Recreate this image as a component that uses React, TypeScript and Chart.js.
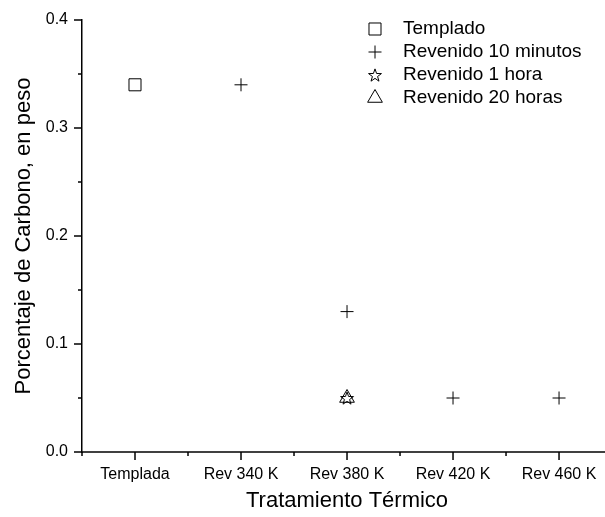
import React, { useEffect, useRef } from 'react';
import { Chart, registerables } from 'chart.js';
import { drawPoint } from 'chart.js/helpers';

Chart.register(...registerables);

// Heat-treatment categories along the x axis
const categories = ['Templada', 'Rev 340 K', 'Rev 380 K', 'Rev 420 K', 'Rev 460 K'];

// Carbon content (wt %) per series
const templadoCats = ['Templada'];
const templadoValues = [0.34];

const rev10MinCats = ['Rev 340 K', 'Rev 380 K', 'Rev 420 K', 'Rev 460 K'];
const rev10MinValues = [0.34, 0.13, 0.05, 0.05];

const rev1HoraCats = ['Rev 380 K'];
const rev1HoraValues = [0.05];

const rev20HorasCats = ['Rev 380 K'];
const rev20HorasValues = [0.05];

const yTickValues = [0, 0.1, 0.2, 0.3, 0.4];

const X_TITLE = 'Tratamiento Térmico';
const Y_TITLE = 'Porcentaje de Carbono, en peso';

const FONT = '"Liberation Sans", Arial, Helvetica, sans-serif';

function toPoints(cats: string[], values: number[]) {
  return cats.map((c, i) => ({ x: categories.indexOf(c), y: values[i] }));
}

// Outline five-pointed star used as a custom point style
function makeStar(outer: number, inner: number): HTMLCanvasElement {
  const size = 16;
  const c = document.createElement('canvas');
  c.width = size;
  c.height = size;
  const ctx = c.getContext('2d')!;
  const cx = size / 2;
  const cy = size / 2 + outer * 0.1;
  ctx.beginPath();
  for (let k = 0; k < 10; k++) {
    const r = k % 2 === 0 ? outer : inner;
    const a = -Math.PI / 2 + (k * Math.PI) / 5;
    const px = cx + r * Math.cos(a);
    const py = cy + r * Math.sin(a);
    if (k === 0) ctx.moveTo(px, py);
    else ctx.lineTo(px, py);
  }
  ctx.closePath();
  ctx.strokeStyle = '#000';
  ctx.lineWidth = 1;
  ctx.stroke();
  return c;
}

// Bottom axis line running to the canvas edge, outward major/minor ticks,
// and the x-axis title centred on the category range
const axisDecorPlugin = {
  id: 'axisDecor',
  afterDraw(chart: any, _args: any, opts: any) {
    const { ctx, chartArea: a, scales } = chart;
    const xs = scales.x;
    const ys = scales.y;
    ctx.save();
    ctx.strokeStyle = '#000';
    ctx.lineWidth = 1.5;
    const seg = (x1: number, y1: number, x2: number, y2: number) => {
      ctx.beginPath();
      ctx.moveTo(x1, y1);
      ctx.lineTo(x2, y2);
      ctx.stroke();
    };
    // x axis line
    seg(a.left - 0.75, a.bottom, chart.width, a.bottom);

    const yt = ys.ticks;
    yt.forEach((t: any, i: number) => {
      const py = ys.getPixelForValue(t.value);
      seg(a.left - 8, py, a.left, py);
      if (i < yt.length - 1) {
        const pm = ys.getPixelForValue((t.value + yt[i + 1].value) / 2);
        seg(a.left - 4, pm, a.left, pm);
      }
    });
    const xt = xs.ticks;
    const minors: number[] = [];
    xt.forEach((t: any, i: number) => {
      const px = xs.getPixelForValue(t.value);
      seg(px, a.bottom, px, a.bottom + 8);
      minors.push(t.value - 0.5);
      if (i === xt.length - 1) minors.push(t.value + 0.5);
    });
    minors.forEach((v) => {
      const px = xs.getPixelForValue(v);
      if (px >= a.left - 1 && px <= chart.width) seg(px, a.bottom, px, a.bottom + 4);
    });

    // x title
    const mid = xs.getPixelForValue((categories.length - 1) / 2);
    ctx.fillStyle = '#000';
    ctx.font = `${opts.titleSize}px ${FONT}`;
    ctx.textAlign = 'center';
    ctx.textBaseline = 'middle';
    ctx.fillText(X_TITLE, mid, a.bottom + opts.titleOffset);
    ctx.restore();
  },
};

// Boxless legend in the upper right of the plot
const markerLegendPlugin = {
  id: 'markerLegend',
  afterDraw(chart: any, _args: any, opts: any) {
    const ctx = chart.ctx;
    ctx.save();
    ctx.font = `${opts.fontSize}px ${FONT}`;
    ctx.textBaseline = 'middle';
    ctx.textAlign = 'left';
    chart.data.datasets.forEach((ds: any, i: number) => {
      const y = opts.top + i * opts.rowHeight;
      ctx.strokeStyle = '#000';
      ctx.fillStyle = 'rgba(0,0,0,0)';
      ctx.lineWidth = 1;
      drawPoint(
        ctx,
        { pointStyle: ds.pointStyle, radius: ds.pointRadius, borderWidth: 1, rotation: 0 } as any,
        opts.markerX,
        y
      );
      ctx.fillStyle = '#000';
      ctx.fillText(ds.label, opts.textX, y);
    });
    ctx.restore();
  },
};

export default function App() {
  const canvasRef = useRef<HTMLCanvasElement | null>(null);

  useEffect(() => {
    if (!canvasRef.current) return;
    const star = makeStar(6.8, 2.7);
    const common = {
      showLine: false,
      borderColor: '#000',
      backgroundColor: 'rgba(0,0,0,0)',
      borderWidth: 1,
    };
    const chart = new Chart(canvasRef.current, {
      type: 'scatter',
      data: {
        datasets: [
          { ...common, label: 'Templado', data: toPoints(templadoCats, templadoValues), pointStyle: 'rect', pointRadius: 8.5 },
          { ...common, label: 'Revenido 10 minutos', data: toPoints(rev10MinCats, rev10MinValues), pointStyle: 'cross', pointRadius: 6.5 },
          { ...common, label: 'Revenido 1 hora', data: toPoints(rev1HoraCats, rev1HoraValues), pointStyle: star as any, pointRadius: 7 },
          { ...common, label: 'Revenido 20 horas', data: toPoints(rev20HorasCats, rev20HorasValues), pointStyle: 'triangle', pointRadius: 8.5 },
        ] as any,
      },
      options: {
        animation: false,
        responsive: false,
        devicePixelRatio: 1,
        layout: { padding: { top: 20, right: 0, bottom: 0, left: 0 } },
        plugins: {
          legend: { display: false },
          tooltip: { enabled: false },
          markerLegend: { markerX: 375, textX: 403, top: 29, rowHeight: 23, fontSize: 19 },
          axisDecor: { titleSize: 22, titleOffset: 49 },
        } as any,
        scales: {
          x: {
            type: 'linear',
            min: -0.5,
            max: 4.344,
            grid: { display: false, drawTicks: false },
            border: { display: false },
            afterBuildTicks: (scale: any) => {
              scale.ticks = categories.map((_, i) => ({ value: i }));
            },
            afterFit: (scale: any) => {
              scale.height = 65;
              scale.paddingLeft = 0;
              scale.paddingRight = 0;
            },
            ticks: {
              padding: 13,
              color: '#000',
              font: { family: FONT, size: 16 },
              maxRotation: 0,
              autoSkip: false,
              callback: (v: any) => categories[Math.round(Number(v))] ?? '',
            },
            title: { display: false },
          },
          y: {
            type: 'linear',
            min: 0,
            max: 0.4,
            grid: { display: false, drawTicks: false },
            border: { display: true, color: '#000', width: 1.5 },
            afterBuildTicks: (scale: any) => {
              scale.ticks = yTickValues.map((v) => ({ value: v }));
            },
            afterFit: (scale: any) => {
              scale.width = 82;
              scale.paddingTop = 0;
              scale.paddingBottom = 0;
            },
            ticks: {
              padding: 14,
              color: '#000',
              font: { family: FONT, size: 16 },
              callback: (v: any) => Number(v).toFixed(1),
            },
            title: {
              display: true,
              text: Y_TITLE,
              color: '#000',
              font: { family: FONT, size: 22 },
              padding: { top: 11, bottom: 0 },
            },
          },
        },
      } as any,
      plugins: [axisDecorPlugin, markerLegendPlugin],
    });
    return () => chart.destroy();
  }, []);

  return (
    <div style={{ position: 'absolute', left: 0, top: 0, width: 605, height: 517, background: '#fff' }}>
      <canvas ref={canvasRef} width={605} height={517} />
    </div>
  );
}
